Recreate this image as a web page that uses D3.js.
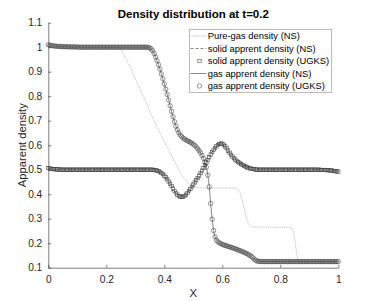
<!DOCTYPE html>
<html><head><meta charset="utf-8">
<script src="https://cdn.jsdelivr.net/npm/d3@7"></script>
<style>
html,body{margin:0;padding:0;background:#fff;}
svg{display:block;font-family:"Liberation Sans",Arial,Helvetica,sans-serif;}
</style></head>
<body><svg id="chart" width="374" height="301"></svg>
<script>
// ---------- data ----------
const titleText = "Density distribution at t=0.2";
const xLabel = "X";
const yLabel = "Apparent density";
const xTicks = [0, 0.2, 0.4, 0.6, 0.8, 1];
const xTickLabels = ["0", "0.2", "0.4", "0.6", "0.8", "1"];
const yTicks = [0.1, 0.2, 0.3, 0.4, 0.5, 0.6, 0.7, 0.8, 0.9, 1, 1.1];
const yTickLabels = ["0.1", "0.2", "0.3", "0.4", "0.5", "0.6", "0.7", "0.8", "0.9", "1", "1.1"];
const seriesNames = ["Pure-gas density (NS)", "solid apprent density (NS)", "solid apprent density (UGKS)", "gas apprent density (NS)", "gas apprent density (UGKS)"];

// grid spacing of the UGKS / NS samples (x = index * gridStep, 0..1)
const gridStep = 0.005;

// Pure-gas density (NS)
const pureX = [0, 0.24, 0.245, 0.25, 0.26, 0.27, 0.28, 0.30, 0.32, 0.34, 0.36, 0.38, 0.40, 0.42, 0.44, 0.46, 0.47, 0.48, 0.49, 0.50, 0.51, 0.52, 0.53, 0.645, 0.65, 0.655, 0.66, 0.665, 0.67, 0.675, 0.68, 0.685, 0.69, 0.695, 0.70, 0.71, 0.83, 0.835, 0.84, 0.845, 0.85, 0.855, 0.86, 0.865, 0.87, 1.0];
const pureY = [1.0, 1.0, 0.998, 0.99, 0.97, 0.948, 0.925, 0.872, 0.818, 0.768, 0.712, 0.662, 0.615, 0.568, 0.522, 0.480, 0.463, 0.449, 0.439, 0.432, 0.428, 0.426, 0.425, 0.425, 0.423, 0.418, 0.408, 0.39, 0.37, 0.345, 0.32, 0.298, 0.282, 0.272, 0.268, 0.266, 0.265, 0.264, 0.260, 0.248, 0.215, 0.17, 0.135, 0.126, 0.125, 0.125];

// gas apparent density (UGKS / NS), 201 samples
const gasY = [
1.010,1.008,1.007,1.006,1.005,1.004,1.004,1.003,1.003,1.003,1.002,
1.002,1.002,1.002,1.002,1.001,1.001,1.001,1.001,1.001,1.001,
1.000,1.000,1.000,1.000,1.000,1.000,1.000,1.000,1.000,1.000,1.000,1.000,1.000,1.000,1.000,1.000,
1.000,1.000,1.000,1.000,1.000,1.000,1.000,1.000,1.000,1.000,1.000,1.000,1.000,1.000,1.000,1.000,
1.000,1.000,1.000,1.000,1.000,1.000,1.000,1.000,1.000,1.000,1.000,1.000,1.000,1.000,1.000,1.000,
0.999,0.997,0.993,0.985,0.974,0.960,0.945,0.928,0.910,0.891,0.871,0.850,0.829,0.807,0.784,0.761,
0.738,0.716,0.696,0.678,0.663,0.651,0.642,0.635,0.629,0.625,0.621,0.618,0.615,0.612,0.608,0.604,
0.599,0.593,0.586,0.578,0.569,0.558,0.546,0.531,0.510,0.478,0.430,0.362,0.298,0.252,0.226,0.213,
0.206,0.201,0.198,0.195,0.193,0.191,0.189,0.187,0.185,0.183,0.181,0.179,0.177,0.175,0.172,0.170,
0.168,0.165,0.163,0.160,0.157,0.154,0.150,0.146,0.141,0.135,0.130,0.127,0.126,0.125,
0.125,0.125,0.125,0.125,0.125,0.125,0.125,0.125,0.125,0.125,0.125,0.125,0.125,0.125,0.125,0.125,0.125,0.125,
0.125,0.125,0.125,0.125,0.125,0.125,0.125,0.125,0.125,0.125,0.125,0.125,0.125,0.125,0.125,0.125,0.125,0.125,
0.125,0.125,0.125,0.125,0.125,0.125,0.125,0.125,0.125,0.125,0.125,0.125,0.125,0.125,0.125,0.125,0.125,0.125
];

// solid apparent density (UGKS / NS), 201 samples
const solidY = [
0.507,0.505,0.504,0.503,0.502,0.502,0.501,0.501,0.501,
0.500,0.500,0.500,0.500,0.500,0.500,0.500,0.500,0.500,0.500,0.500,0.500,0.500,0.500,0.500,0.500,
0.500,0.500,0.500,0.500,0.500,0.500,0.500,0.500,0.500,0.500,0.500,0.500,0.500,0.500,0.500,0.500,
0.500,0.500,0.500,0.500,0.500,0.500,0.500,0.500,0.500,0.500,0.500,0.500,0.500,0.500,0.500,0.500,
0.500,0.500,0.500,0.500,0.500,0.500,0.500,0.500,0.500,0.500,0.500,0.500,0.500,0.500,0.500,0.500,
0.499,0.498,0.496,0.494,0.491,0.487,0.482,0.476,0.469,0.461,0.452,0.443,0.433,0.423,0.413,0.405,
0.398,0.393,0.390,0.389,0.390,0.393,0.398,0.405,0.413,0.421,0.430,0.439,0.448,0.457,0.466,0.476,
0.486,0.496,0.507,0.518,0.529,0.540,0.551,0.562,0.572,0.581,0.589,0.596,0.601,0.605,0.607,0.606,
0.602,0.595,0.587,0.578,0.569,0.561,0.554,0.547,0.541,0.536,0.531,0.527,0.523,0.519,0.516,0.513,
0.510,0.508,0.506,0.504,0.503,0.502,0.501,
0.500,0.500,0.500,0.500,0.500,0.500,0.500,0.500,0.500,0.500,0.500,0.500,0.500,0.500,
0.500,0.500,0.500,0.500,0.500,0.500,0.500,0.500,0.500,0.500,0.500,0.500,0.500,0.500,
0.500,0.500,0.500,0.500,0.500,0.500,0.500,0.500,0.500,0.500,0.500,0.500,0.500,0.500,
0.500,0.500,0.499,0.499,0.499,0.499,0.498,0.498,0.497,0.497,0.496,0.495,0.494,0.493,0.492
];

// ---------- chart ----------
const svg = d3.select("#chart");
const W = 374, H = 301;
const margin = {left: 48.3, right: 35.7, top: 22.7, bottom: 33.3};
const x = d3.scaleLinear().domain([0, 1]).range([margin.left, W - margin.right]);
const y = d3.scaleLinear().domain([0.1, 1.1]).range([H - margin.bottom, margin.top]);
const ink = "#262626";
const fontTick = "10.2px";
const pureColor = "#a0a0a0";
const markColor = "#3a3a3a";

const gasPts = gasY.map((v, i) => [i * gridStep, v]);
const solidPts = solidY.map((v, i) => [i * gridStep, v]);
const purePts = pureX.map((v, i) => [v, pureY[i]]);

// axes
const xAxis = d3.axisBottom(x).tickValues(xTicks).tickFormat((d, i) => xTickLabels[i]).tickSizeInner(-2.9).tickSizeOuter(0).tickPadding(6);
const yAxis = d3.axisLeft(y).tickValues(yTicks).tickFormat((d, i) => yTickLabels[i]).tickSizeInner(-2.9).tickSizeOuter(0).tickPadding(6);

const gx = svg.append("g").attr("transform", `translate(0,${y.range()[0]})`).call(xAxis);
const gy = svg.append("g").attr("transform", `translate(${x.range()[0]},0)`).call(yAxis);
[gx, gy].forEach(g => {
  g.select(".domain").attr("stroke", ink).attr("stroke-width", 0.6);
  g.selectAll(".tick line").attr("stroke", ink).attr("stroke-width", 0.6);
  g.selectAll(".tick text").attr("fill", ink).style("font-size", fontTick).style("font-family", "'Liberation Sans',Arial,Helvetica,sans-serif");
});
gx.selectAll(".tick text").attr("dy", "0.95em");

const line = d3.line().x(d => x(d[0])).y(d => y(d[1]));

// series 1: pure gas dotted
svg.append("path").attr("d", line(purePts)).attr("fill", "none")
  .attr("stroke", pureColor).attr("stroke-width", 0.7).attr("stroke-dasharray", "1,0.8");
// series 2: solid NS dashed
svg.append("path").attr("d", line(solidPts)).attr("fill", "none")
  .attr("stroke", markColor).attr("stroke-width", 0.6).attr("stroke-dasharray", "3,2");
// series 3: solid UGKS squares
const sq = 3.4;
svg.append("g").selectAll("rect").data(solidPts).join("rect")
  .attr("x", d => x(d[0]) - sq / 2).attr("y", d => y(d[1]) - sq / 2)
  .attr("width", sq).attr("height", sq)
  .attr("fill", "none").attr("stroke", markColor).attr("stroke-width", 0.55);
// series 4: gas NS solid line
svg.append("path").attr("d", line(gasPts)).attr("fill", "none")
  .attr("stroke", markColor).attr("stroke-width", 0.6);
// series 5: gas UGKS circles
svg.append("g").selectAll("circle").data(gasPts).join("circle")
  .attr("cx", d => x(d[0])).attr("cy", d => y(d[1])).attr("r", 2.2)
  .attr("fill", "none").attr("stroke", markColor).attr("stroke-width", 0.55);

// title & labels
svg.append("text").attr("x", (x.range()[0] + x.range()[1]) / 2).attr("y", 18.3)
  .attr("text-anchor", "middle").attr("font-weight", "bold").attr("font-size", "11.5px").attr("fill", "#000")
  .text(titleText);
svg.append("text").attr("x", (x.range()[0] + x.range()[1]) / 2).attr("y", 296.5)
  .attr("text-anchor", "middle").attr("font-size", "11.2px").attr("fill", ink).text(xLabel);
svg.append("text").attr("transform", `translate(26,${(y.range()[0] + y.range()[1]) / 2}) rotate(-90)`)
  .attr("text-anchor", "middle").attr("font-size", "11.2px").attr("fill", ink).text(yLabel);

// legend
const lg = svg.append("g");
lg.append("rect").attr("x", 189.3).attr("y", 29.3).attr("width", 142.4).attr("height", 63)
  .attr("fill", "#fff").attr("stroke", "#9a9a9a").attr("stroke-width", 0.7);
const rowY = [36, 48.5, 61, 73.5, 86];
const sx0 = 190.5, sx1 = 206.5, smid = 199.5;
seriesNames.forEach((name, i) => {
  const ry = rowY[i];
  if (i === 0) lg.append("line").attr("x1", sx0).attr("x2", sx1).attr("y1", ry).attr("y2", ry).attr("stroke", pureColor).attr("stroke-width", 0.7).attr("stroke-dasharray", "1,0.8");
  if (i === 1) lg.append("line").attr("x1", sx0).attr("x2", sx1).attr("y1", ry).attr("y2", ry).attr("stroke", markColor).attr("stroke-width", 0.6).attr("stroke-dasharray", "3,2");
  if (i === 2) lg.append("rect").attr("x", smid - sq / 2).attr("y", ry - sq / 2).attr("width", sq).attr("height", sq).attr("fill", "none").attr("stroke", markColor).attr("stroke-width", 0.55);
  if (i === 3) lg.append("line").attr("x1", sx0).attr("x2", sx1).attr("y1", ry).attr("y2", ry).attr("stroke", markColor).attr("stroke-width", 0.6);
  if (i === 4) lg.append("circle").attr("cx", smid).attr("cy", ry).attr("r", 2.2).attr("fill", "none").attr("stroke", markColor).attr("stroke-width", 0.55);
  lg.append("text").attr("x", 207.7).attr("y", ry).attr("dy", "0.35em").attr("font-size", "9.4px").attr("fill", "#000").text(name);
});
</script></body></html>
